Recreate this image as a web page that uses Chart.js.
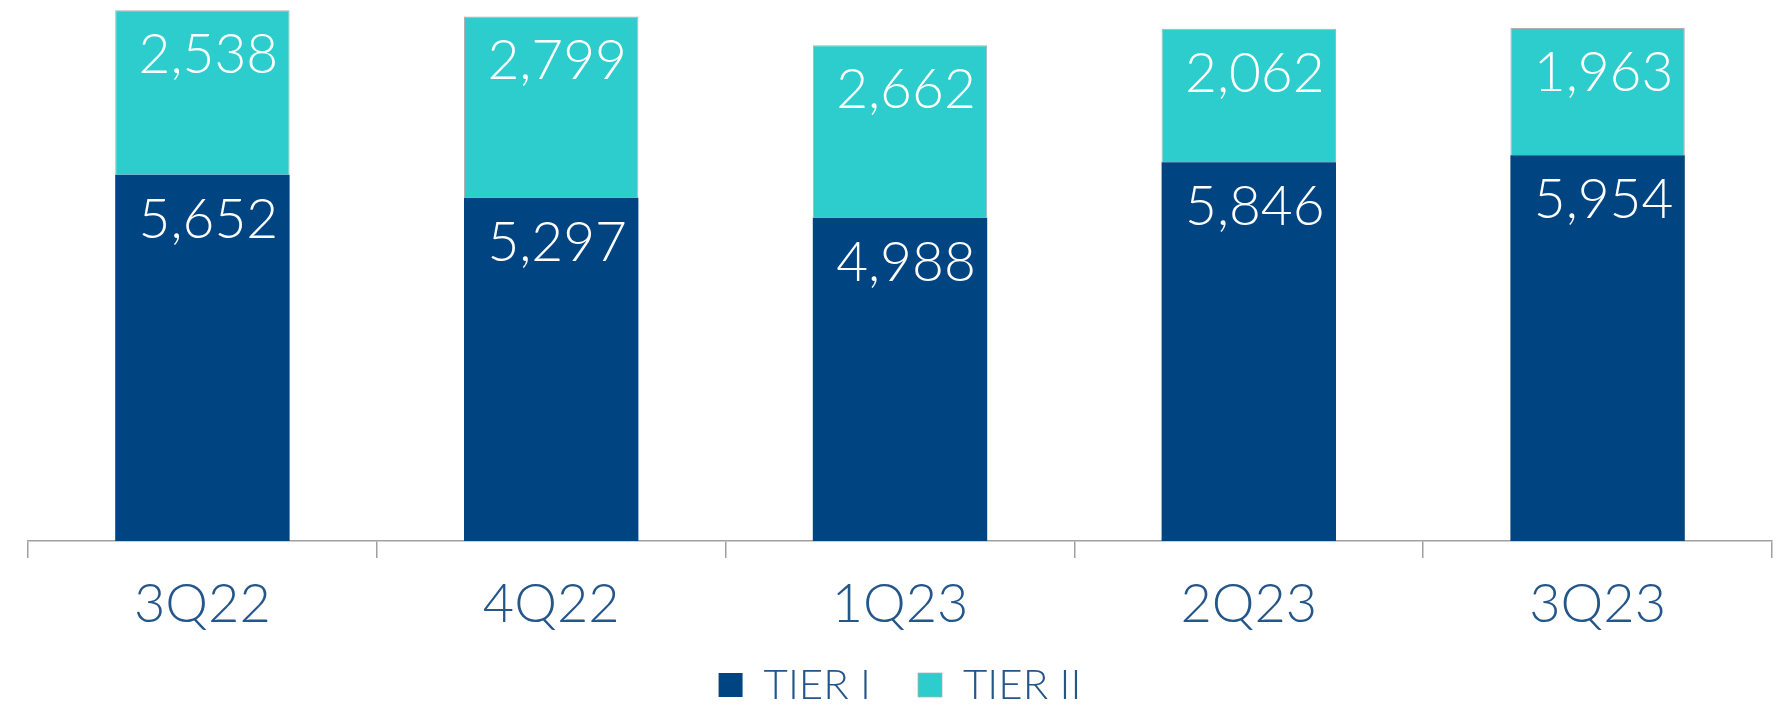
<!DOCTYPE html>
<html>
<head>
<meta charset="utf-8">
<script src="https://cdn.jsdelivr.net/npm/chart.js@4.4.0/dist/chart.umd.min.js"></script>
<style>
  html, body { margin: 0; padding: 0; background: #ffffff; }
  #wrap { width: 1790px; height: 706px; position: relative; }
</style>
</head>
<body>
<div id="wrap"><canvas id="c"></canvas></div>
<script>
const categories = ['3Q22', '4Q22', '1Q23', '2Q23', '3Q23'];
const tier1 = [5652, 5297, 4988, 5846, 5954];
const tier2 = [2538, 2799, 2662, 2062, 1963];
const seriesNames = ['TIER I', 'TIER II'];

const FONT = "Lato, 'Open Sans', sans-serif";
const navy = '#004481';
const aqua = '#2DCCCD';
const textBlue = '#24568a';

const valueLabels = {
  id: 'valueLabels',
  afterDatasetsDraw(chart) {
    const ctx = chart.ctx;
    ctx.save();
    ctx.fillStyle = '#ffffff';
    ctx.font = '300 55px ' + FONT;
    ctx.textAlign = 'center';
    ctx.textBaseline = 'alphabetic';
    chart.data.datasets.forEach((ds, di) => {
      const meta = chart.getDatasetMeta(di);
      meta.data.forEach((el, i) => {
        const p = el.getProps(['x', 'y'], true);
        ctx.fillText(ds.data[i].toLocaleString('en-US'), p.x + 6, p.y + 63);
      });
    });
    ctx.restore();
  }
};

// nudge the legend row up so it sits just below the category labels
const legendShift = {
  id: 'legendShift',
  afterLayout(chart) {
    const lg = chart.legend;
    if (lg) {
      lg.top -= 20;
      lg.bottom = chart.height;
      lg.height = lg.bottom - lg.top;
    }
  }
};

new Chart(document.getElementById('c'), {
  type: 'bar',
  data: {
    labels: categories,
    datasets: [
      { label: seriesNames[0], data: tier1, backgroundColor: navy, borderWidth: 0 },
      { label: seriesNames[1], data: tier2, backgroundColor: aqua, borderColor: '#b0b0b0', borderWidth: {top: 1, left: 1, right: 1, bottom: 0} }
    ]
  },
  options: {
    responsive: true,
    maintainAspectRatio: false,
    animation: false,
    layout: { padding: { left: 28, right: 18, top: 0, bottom: 0 } },
    datasets: { bar: { categoryPercentage: 1.0, barPercentage: 0.5 } },
    scales: {
      x: {
        stacked: true,
        offset: true,
        afterFit: (scale) => { scale.height = 96; },
        grid: { display: true, drawOnChartArea: false, offset: true, color: '#a0a0a0', tickLength: 17, lineWidth: 1.5 },
        border: { display: true, color: '#a0a0a0', width: 1.5 },
        ticks: { color: textBlue, font: { family: FONT, size: 54, weight: '300', lineHeight: '20px' }, padding: 37 }
      },
      y: {
        stacked: true,
        display: false,
        min: 0,
        max: 8350
      }
    },
    plugins: {
      legend: {
        position: 'bottom',
        maxHeight: 69,
        labels: {
          color: textBlue,
          font: { family: FONT, size: 42, weight: '300' },
          boxWidth: 24,
          boxHeight: 24,
          padding: 47
        }
      },
      tooltip: { enabled: false }
    }
  },
  plugins: [valueLabels, legendShift]
});
</script>
</body>
</html>
